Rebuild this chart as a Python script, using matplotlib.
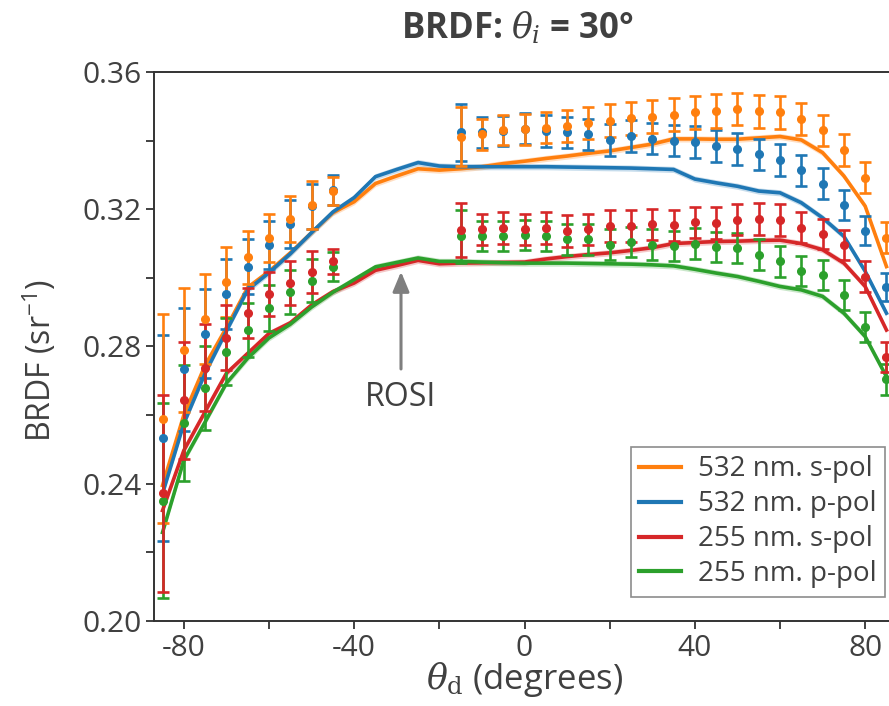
import matplotlib
matplotlib.use("Agg")
import matplotlib.pyplot as plt
from matplotlib.ticker import MultipleLocator

# --- model curves (theta_d in degrees, BRDF in 1/sr) ---
theta_line = [-85, -80, -75, -70, -65, -60, -55, -50, -45, -40, -35, -30, -25, -20,
              -15, -10, -5, 0, 5, 10, 15, 20, 25, 30, 35, 40, 45, 50, 55, 60, 65,
              70, 75, 80, 85]
line_532_s = [0.2395, 0.2600, 0.2745, 0.2855, 0.2972, 0.3019, 0.3073, 0.3132, 0.3190,
              0.3222, 0.3275, 0.3297, 0.3318, 0.3314, 0.3318, 0.3324, 0.3333, 0.3340,
              0.3348, 0.3355, 0.3363, 0.3370, 0.3380, 0.3390, 0.3405, 0.3405, 0.3404,
              0.3404, 0.3408, 0.3412, 0.3402, 0.3365, 0.3297, 0.3209, 0.3033]
line_532_p = [0.2371, 0.2575, 0.2722, 0.2845, 0.2965, 0.3015, 0.3070, 0.3132, 0.3192,
              0.3234, 0.3295, 0.3316, 0.3336, 0.3326, 0.3324, 0.3324, 0.3324, 0.3324,
              0.3324, 0.3323, 0.3322, 0.3321, 0.3320, 0.3318, 0.3316, 0.3288, 0.3277,
              0.3267, 0.3253, 0.3248, 0.3219, 0.3175, 0.3121, 0.3019, 0.2897]
line_255_s = [0.2322, 0.2497, 0.2610, 0.2722, 0.2780, 0.2838, 0.2869, 0.2921, 0.2960,
              0.2985, 0.3022, 0.3036, 0.3051, 0.3041, 0.3043, 0.3044, 0.3045, 0.3046,
              0.3055, 0.3062, 0.3068, 0.3073, 0.3080, 0.3088, 0.3100, 0.3103, 0.3106,
              0.3107, 0.3109, 0.3110, 0.3100, 0.3082, 0.3043, 0.2975, 0.2848]
line_255_p = [0.2258, 0.2468, 0.2580, 0.2693, 0.2766, 0.2825, 0.2865, 0.2915, 0.2958,
              0.2995, 0.3032, 0.3045, 0.3058, 0.3048, 0.3048, 0.3046, 0.3044, 0.3043,
              0.3043, 0.3043, 0.3042, 0.3041, 0.3040, 0.3038, 0.3035, 0.3025, 0.3014,
              0.3004, 0.2990, 0.2975, 0.2965, 0.2946, 0.2897, 0.2829, 0.2712]

# --- measurements, left block ---
theta_left = [-85, -80, -75, -70, -65, -60, -55, -50, -45]
meas_532_s_left = [0.2590, 0.2790, 0.2880, 0.2988, 0.3060, 0.3116, 0.3172, 0.3211, 0.3253]
err_532_s_left = [0.0305, 0.0180, 0.0130, 0.0102, 0.0078, 0.0070, 0.0066, 0.0070, 0.0042]
meas_532_p_left = [0.2534, 0.2733, 0.2837, 0.2953, 0.3032, 0.3096, 0.3158, 0.3209, 0.3256]
err_532_p_left = [0.0300, 0.0180, 0.0130, 0.0103, 0.0080, 0.0070, 0.0070, 0.0066, 0.0044]
meas_255_s_left = [0.2372, 0.2643, 0.2738, 0.2826, 0.2897, 0.2953, 0.2985, 0.3017, 0.3048]
err_255_s_left = [0.0287, 0.0170, 0.0127, 0.0095, 0.0073, 0.0064, 0.0063, 0.0060, 0.0037]
meas_255_p_left = [0.2351, 0.2577, 0.2680, 0.2785, 0.2848, 0.2912, 0.2960, 0.2992, 0.3032]
err_255_p_left = [0.0285, 0.0170, 0.0122, 0.0098, 0.0078, 0.0068, 0.0064, 0.0063, 0.0042]

# --- measurements, right block ---
theta_right = [-15, -10, -5, 0, 5, 10, 15, 20, 25, 30, 35, 40, 45, 50, 55, 60, 65, 70,
               75, 80, 85]
meas_532_s_right = [0.3412, 0.3419, 0.3431, 0.3433, 0.3438, 0.3443, 0.3451, 0.3458,
                    0.3465, 0.3470, 0.3475, 0.3482, 0.3487, 0.3492, 0.3485, 0.3482,
                    0.3463, 0.3430, 0.3372, 0.3292, 0.3117]
err_532_s_right = [0.0085, 0.0045, 0.0044, 0.0045, 0.0046, 0.0046, 0.0047, 0.0048,
                   0.0048, 0.0048, 0.0048, 0.0049, 0.0049, 0.0047, 0.0047, 0.0047,
                   0.0047, 0.0046, 0.0046, 0.0046, 0.0045]
meas_532_p_right = [0.3424, 0.3424, 0.3428, 0.3435, 0.3428, 0.3424, 0.3419, 0.3402,
                    0.3414, 0.3406, 0.3400, 0.3396, 0.3385, 0.3375, 0.3360, 0.3344,
                    0.3313, 0.3275, 0.3212, 0.3138, 0.2973]
err_532_p_right = [0.0084, 0.0045, 0.0045, 0.0046, 0.0046, 0.0046, 0.0045, 0.0046,
                   0.0046, 0.0046, 0.0046, 0.0046, 0.0046, 0.0047, 0.0046, 0.0046,
                   0.0045, 0.0044, 0.0044, 0.0043, 0.0040]
meas_255_s_right = [0.3139, 0.3141, 0.3146, 0.3141, 0.3146, 0.3136, 0.3141, 0.3151,
                    0.3151, 0.3156, 0.3153, 0.3162, 0.3160, 0.3170, 0.3172, 0.3168,
                    0.3146, 0.3129, 0.3095, 0.3004, 0.2770]
err_255_s_right = [0.0079, 0.0046, 0.0046, 0.0046, 0.0046, 0.0046, 0.0046, 0.0046,
                   0.0046, 0.0046, 0.0046, 0.0046, 0.0046, 0.0046, 0.0046, 0.0046,
                   0.0045, 0.0044, 0.0044, 0.0044, 0.0044]
meas_255_p_right = [0.3121, 0.3123, 0.3123, 0.3126, 0.3121, 0.3112, 0.3112, 0.3097,
                    0.3104, 0.3097, 0.3094, 0.3100, 0.3089, 0.3087, 0.3068, 0.3048,
                    0.3021, 0.3009, 0.2949, 0.2856, 0.2704]
err_255_p_right = [0.0078, 0.0044, 0.0044, 0.0044, 0.0044, 0.0044, 0.0044, 0.0044,
                   0.0044, 0.0044, 0.0044, 0.0044, 0.0044, 0.0044, 0.0044, 0.0044,
                   0.0044, 0.0044, 0.0044, 0.0044, 0.0044]

labels = ["532 nm. s-pol", "532 nm. p-pol", "255 nm. s-pol", "255 nm. p-pol"]
colors = ["#ff7f0e", "#1f77b4", "#d62728", "#2ca02c"]

plt.rcParams["font.family"] = ["Open Sans", "DejaVu Sans"]
plt.rcParams["mathtext.fontset"] = "custom"
plt.rcParams["mathtext.rm"] = "DejaVu Serif"
plt.rcParams["mathtext.it"] = "DejaVu Serif:italic"
plt.rcParams["mathtext.bf"] = "DejaVu Serif:bold"
txt = "#404040"

fig = plt.figure(figsize=(8.89, 7.06), dpi=100)
ax = fig.add_axes([154 / 889, 1 - 621 / 706, 741 / 889, 549 / 706])

lines = [line_532_s, line_532_p, line_255_s, line_255_p]
handles = []
for ys, c, lab in zip(lines, colors, labels):
    lo = [v - 0.0009 for v in ys]
    hi = [v + 0.0009 for v in ys]
    ax.fill_between(theta_line, lo, hi, color=c, alpha=0.25, lw=0, zorder=2)
    h, = ax.plot(theta_line, ys, color=c, lw=2.6, label=lab, zorder=2.5)
    handles.append(h)

# draw order: blue, orange, green, red (later ones sit on top)
meas = [
    (1, meas_532_p_left, err_532_p_left, meas_532_p_right, err_532_p_right),
    (0, meas_532_s_left, err_532_s_left, meas_532_s_right, err_532_s_right),
    (3, meas_255_p_left, err_255_p_left, meas_255_p_right, err_255_p_right),
    (2, meas_255_s_left, err_255_s_left, meas_255_s_right, err_255_s_right),
]
for k, yl, el, yr, er in meas:
    for xs, ys, es in ((theta_left, yl, el), (theta_right, yr, er)):
        ax.errorbar(xs, ys, yerr=es, fmt="o", color=colors[k], ms=5.5,
                    elinewidth=1.9, capsize=4, capthick=1.9, zorder=3)

ax.annotate("ROSI", xy=(-29, 0.3018), xytext=(-29, 0.2650),
            ha="center", va="center", fontsize=23, color=txt,
            arrowprops=dict(arrowstyle="-|>,head_length=0.6,head_width=0.25",
                            mutation_scale=20, color="#7f7f7f", lw=2.2,
                            shrinkA=7, shrinkB=0))

ax.set_xlim(-87, 87)
ax.xaxis.set_minor_locator(MultipleLocator(20))
ax.yaxis.set_minor_locator(MultipleLocator(0.02))
ax.set_xticks([-80, -40, 0, 40, 80])
ax.set_xticklabels(["-80", "-40", "0", "40", "80"])
ax.set_yticks([0.20, 0.24, 0.28, 0.32, 0.36])
ax.set_yticklabels(["0.20", "0.24", "0.28", "0.32", "0.36"])
ax.set_ylim(0.20, 0.36)
ax.tick_params(which="both", direction="out", length=6, width=1.3,
               color="#333333", labelcolor=txt, labelsize=21.5, pad=3)
ax.tick_params(which="minor", labelleft=False, labelbottom=False)
for s in ["left", "top", "bottom"]:
    ax.spines[s].set_color("#333333")
    ax.spines[s].set_linewidth(1.4)
ax.spines["right"].set_visible(False)

ax.set_xlabel(r"$\theta_\mathrm{d}$ (degrees)", fontsize=25, color=txt, labelpad=-2)
ax.set_ylabel(r"BRDF (sr$^{\mathregular{-1}}$)", fontsize=23, color=txt,
              va="center")
ax.yaxis.set_label_coords(-0.154, 0.475)
fig.text(517 / 889, 1 - 29 / 706, r"BRDF: $\theta_i$ = 30°", fontsize=25,
         fontweight="bold", color=txt, ha="center", va="center")

leg = ax.legend(handles=handles, loc="upper left",
                bbox_to_anchor=(631 / 889, 1 - 447 / 706),
                bbox_transform=fig.transFigure, fontsize=20, frameon=True,
                fancybox=False, framealpha=1, edgecolor="#8c8c8c",
                handlelength=1.5, handletextpad=0.6, labelspacing=0.25,
                borderpad=0.3, borderaxespad=0)
leg.get_frame().set_linewidth(1.2)
for t in leg.get_texts():
    t.set_color(txt)
for lh in leg.get_lines():
    lh.set_linewidth(3)

fig.savefig("out.png", dpi=100)
